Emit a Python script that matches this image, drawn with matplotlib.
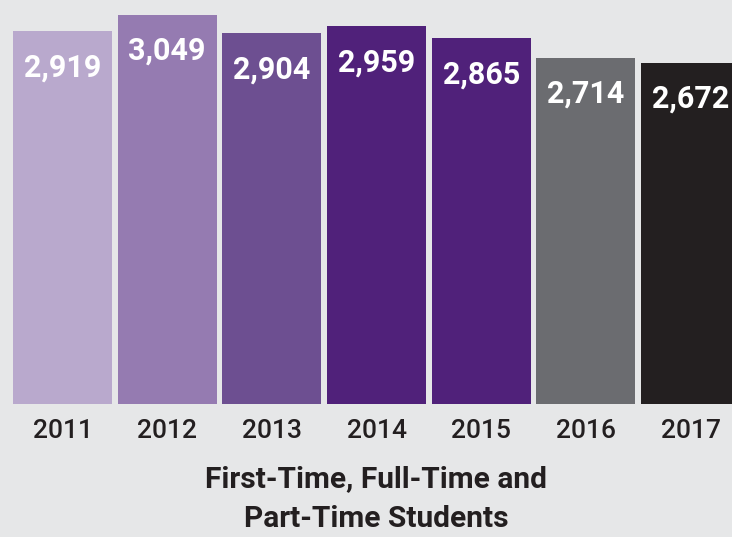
import matplotlib
matplotlib.use("Agg")
from matplotlib import pyplot as plt

years = ["2011", "2012", "2013", "2014", "2015", "2016", "2017"]
students = [2919, 3049, 2904, 2959, 2865, 2714, 2672]
colors = ["#b9a9cd", "#957bb1", "#6d4f91", "#50217a", "#50217a", "#6b6c70", "#231f20"]

plt.rcParams['font.family'] = ['Roboto', 'DejaVu Sans']

bg = "#e6e7e8"
fig = plt.figure(figsize=(7.32, 5.37), dpi=100, facecolor=bg)
# axes spans top of figure down to bar baseline
ax = fig.add_axes([0, 1 - 404 / 537, 1, 404 / 537])
ax.set_facecolor(bg)

x = list(range(len(years)))
ax.bar(x, students, width=0.946, color=colors)

for i, v in enumerate(students):
    ax.annotate("{:,}".format(v), (i, v), xytext=(0, -26), textcoords="offset points",
                ha="center", va="center", color="white", fontsize=22, fontweight="bold")

ax.set_xlim(-0.597, 6.396)
ax.set_ylim(0, 3165)
ax.axis("off")

for i, y in enumerate(years):
    fig.text((62.5 + i * 104.67) / 732, 1 - 431 / 537, y, ha="center", va="center",
             fontsize=19, fontweight="medium", color="#231f20")

fig.text(376 / 732, 1 - 479 / 537, "First-Time, Full-Time and", ha="center", va="center",
         fontsize=21.5, fontweight="bold", color="#231f20")
fig.text(376 / 732, 1 - 519 / 537, "Part-Time Students", ha="center", va="center",
         fontsize=21.5, fontweight="bold", color="#231f20")

fig.savefig("out.png", dpi=100, facecolor=bg)
